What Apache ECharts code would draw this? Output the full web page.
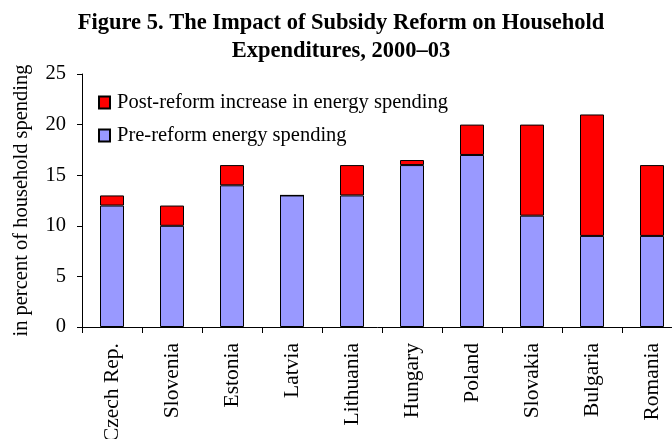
<!DOCTYPE html>
<html>
<head>
<meta charset="utf-8">
<script src="https://cdn.jsdelivr.net/npm/echarts@6/dist/echarts.min.js"></script>
<style>
  html, body { margin: 0; padding: 0; background: #fff; }
  #chart { width: 672px; height: 439px; }
</style>
</head>
<body>
<div id="chart"></div>
<script>
var countries = ["Czech Rep.", "Slovenia", "Estonia", "Latvia", "Lithuania", "Hungary", "Poland", "Slovakia", "Bulgaria", "Romania"];
var preReform = [12, 10, 14, 13, 13, 16, 17, 11, 9, 9];
var postIncrease = [1, 2, 2, 0, 3, 0.5, 3, 9, 12, 7];
var yTicks = [0, 5, 10, 15, 20, 25];

var serif = '"Liberation Serif", "Times New Roman", serif';

var myChart = echarts.init(document.getElementById("chart"));

myChart.setOption({
  animation: false,
  title: {
    text: "Figure 5. The Impact of Subsidy Reform on Household\nExpenditures, 2000\u201303",
    left: 336,
    textAlign: "center",
    top: 4,
    textStyle: {
      fontFamily: serif,
      fontWeight: "bold",
      fontSize: 22.5,
      lineHeight: 28,
      color: "#000",
    },
  },
  legend: {
    orient: "vertical",
    left: 93,
    top: 87,
    itemWidth: 11,
    itemHeight: 12,
    itemGap: 12,
    icon: "rect",
    data: ["Post-reform increase in energy spending", "Pre-reform energy spending"],
    textStyle: {
      fontFamily: serif,
      fontSize: 20.5,
      color: "#000",
      padding: [0, 0, 0, 2],
    },
  },
  grid: {
    left: 82,
    top: 74,
    width: 600,
    bottom: 112,
    containLabel: false,
    outerBoundsMode: "none",
  },
  xAxis: {
    type: "category",
    data: countries,
    axisLine: { lineStyle: { color: "#000", width: 1 } },
    axisTick: { show: true, length: 6, lineStyle: { color: "#000" } },
    axisLabel: {
      rotate: 90,
      margin: 16,
      fontFamily: serif,
      fontSize: 21.5,
      color: "#000",
    },
  },
  yAxis: {
    type: "value",
    min: yTicks[0],
    max: yTicks[yTicks.length - 1],
    interval: 5,
    name: "in percent of household spending",
    nameLocation: "middle",
    nameGap: 50,
    nameTextStyle: {
      fontFamily: serif,
      fontSize: 20.5,
      color: "#000",
    },
    axisLine: { show: true, lineStyle: { color: "#000", width: 1 } },
    axisTick: { show: true, length: 5, lineStyle: { color: "#000" } },
    splitLine: { show: false },
    axisLabel: {
      margin: 16,
      fontFamily: serif,
      fontSize: 20.5,
      color: "#000",
    },
  },
  series: [
    {
      name: "Pre-reform energy spending",
      type: "bar",
      stack: "total",
      barWidth: 24,
      data: preReform,
      itemStyle: { color: "#9999FF", borderColor: "#000", borderWidth: 1 },
    },
    {
      name: "Post-reform increase in energy spending",
      type: "bar",
      stack: "total",
      barWidth: 24,
      data: postIncrease,
      itemStyle: { color: "#FF0000", borderColor: "#000", borderWidth: 1 },
    },
  ],
});

window.addEventListener("resize", function () {
  myChart.resize();
});
</script>
</body>
</html>
